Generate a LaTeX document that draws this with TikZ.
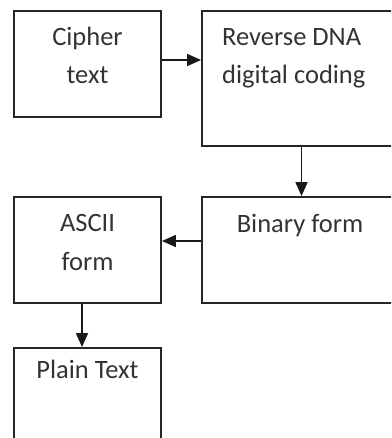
\documentclass[tikz,border=0pt]{standalone}
\usepackage{fontspec}
\setmainfont{Carlito}
\usetikzlibrary{arrows.meta}
\definecolor{ink}{HTML}{333333}
\tikzset{
  box/.style={draw=black!85, line width=1.8pt, rectangle, inner sep=0pt},
  lbl/.style={text=ink, font=\fontsize{26.5}{38}\selectfont, inner sep=0pt, anchor=base},
  arr/.style={draw=black!90, line width=1.6pt, -{Triangle[length=14pt,width=12pt]}}
}
\begin{document}
\begin{tikzpicture}[x=1pt,y=-1pt]
\useasboundingbox (0,0) rectangle (391,438);
\clip (0,0) rectangle (391,438);
\node[box, minimum width=147pt, minimum height=106.5pt] (cipher) at (87.5,64) {};
\node[box, minimum width=199pt, minimum height=135.5pt] (rev) at (301.5,78.5) {};
\node[box, minimum width=199pt, minimum height=106pt] (bin) at (301.5,250) {};
\node[box, minimum width=147pt, minimum height=106pt] (ascii) at (87.5,250) {};
\node[box, minimum width=147pt, minimum height=120pt] (plain) at (87.5,408) {};

\node[lbl] (t1) at (87.5,46) {Cipher};
\node[lbl] (t2) at (87.5,84) {text};
\node[lbl, anchor=base west] (t3) at (222,46) {Reverse DNA};
\node[lbl, anchor=base west] (t4) at (222,84) {digital coding};
\node[lbl] (t5) at (300,232) {Binary form};
\node[lbl] (t6) at (87.5,231) {ASCII};
\node[lbl] (t7) at (87.5,270) {form};
\node[lbl] (t8) at (87.5,378) {Plain Text};

\draw[arr] (cipher.east |- 0,60) -- (rev.west |- 0,60);
\draw[arr] (rev.south) -- (bin.north);
\draw[arr] (bin.west |- 0,241) -- (ascii.east |- 0,241);
\draw[arr] (ascii.south -| 82,0) -- (plain.north -| 82,0);
\end{tikzpicture}
\end{document}
